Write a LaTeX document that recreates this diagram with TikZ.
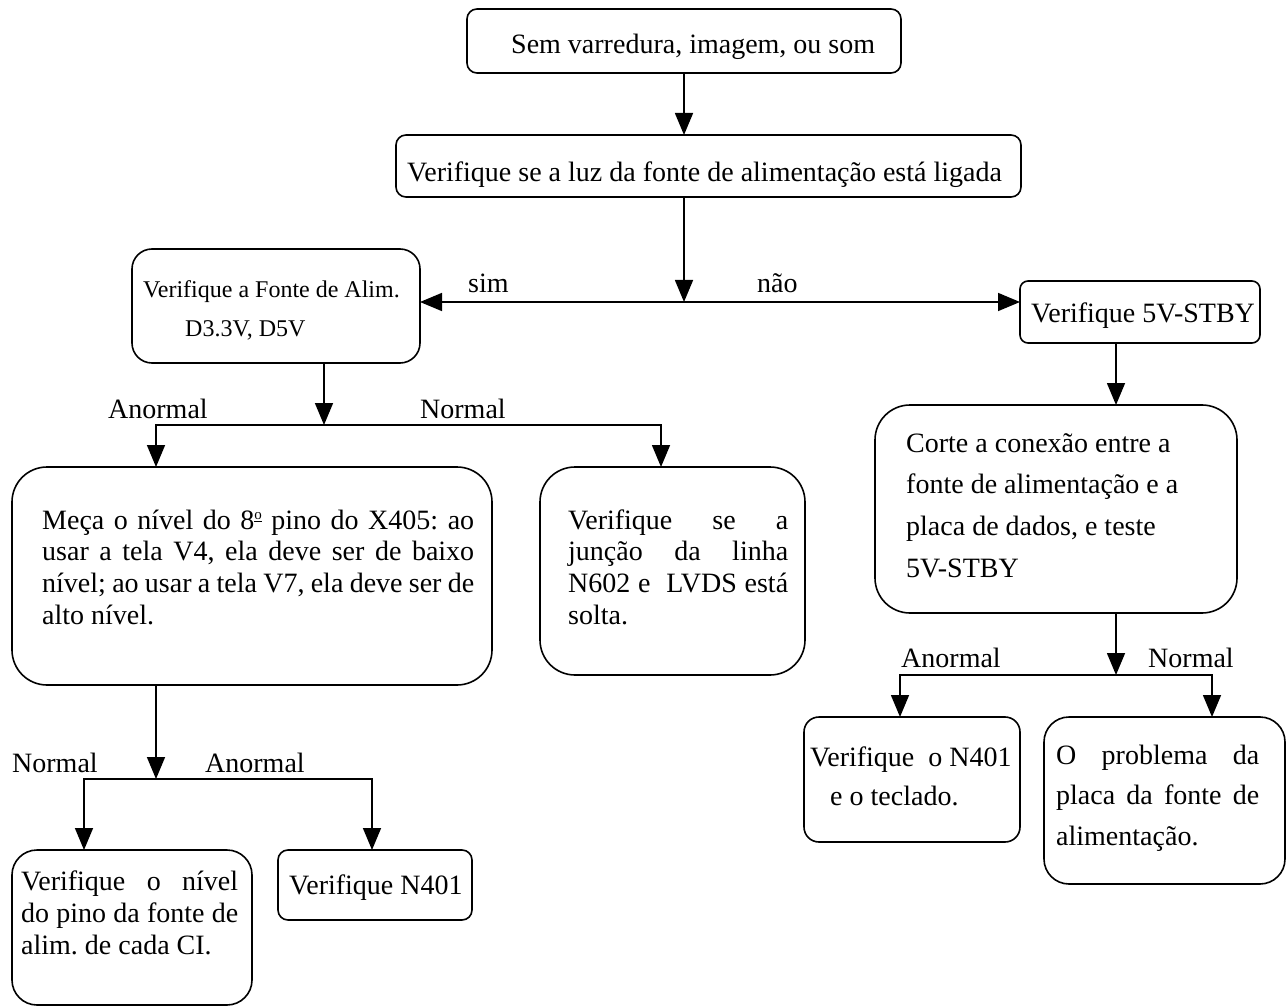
\documentclass[tikz,border=0pt]{standalone}
\usepackage{fontspec}
\setmainfont{Liberation Serif}
\usetikzlibrary{arrows.meta}
\newcommand{\myjust}[2]{\makebox[#1][s]{#2}}
\newcommand{\myord}{\raisebox{0.75ex}{\fontsize{15}{15}\selectfont\underline{o}}}
\frenchspacing
\begin{document}
\begin{tikzpicture}[x=1pt,y=-1pt,
  box/.style={draw, line width=1.6pt, inner sep=0pt, outer sep=0pt, anchor=north west},
  txt/.style={inner sep=0pt, anchor=base west, font=\fontsize{28}{32}\selectfont},
  small/.style={txt, font=\fontsize{24}{28}\selectfont},
  arr/.style={line width=1.6pt, -{Triangle[length=22pt,width=18pt]}}]
\useasboundingbox (0,0) rectangle (1288,1008);

% boxes
\node[box, rounded corners=10pt, minimum width=434pt, minimum height=64pt] (b1) at (467,9) {};
\node[box, rounded corners=10pt, minimum width=625pt, minimum height=62pt] (b2) at (396,135) {};
\node[box, rounded corners=20pt, minimum width=288pt, minimum height=114pt] (b3) at (132,249) {};
\node[box, rounded corners=8pt, minimum width=240pt, minimum height=62pt] (b4) at (1020,281) {};
\node[box, rounded corners=35pt, minimum width=362pt, minimum height=208pt] (b5) at (875,405) {};
\node[box, rounded corners=35pt, minimum width=480pt, minimum height=218pt] (b6) at (12,467) {};
\node[box, rounded corners=35pt, minimum width=265pt, minimum height=208pt] (b7) at (540,467) {};
\node[box, rounded corners=25pt, minimum width=240pt, minimum height=155pt] (b8) at (12,850) {};
\node[box, rounded corners=10pt, minimum width=194pt, minimum height=70pt] (b9) at (278,850) {};
\node[box, rounded corners=15pt, minimum width=216pt, minimum height=125pt] (b10) at (804,717) {};
\node[box, rounded corners=25pt, minimum width=241pt, minimum height=167pt] (b11) at (1044,717) {};

% texts
\node[txt] (t1) at (511,54) {Sem varredura, imagem, ou som};
\node[txt] (t2) at (407,182) {Verifique se a luz da fonte de alimentação está ligada};
\node[small] (t3a) at (143,298) {Verifique a Fonte de Alim.};
\node[small] (t3b) at (185,337) {D3.3V, D5V};
\node[txt] (t4) at (1031,323) {Verifique 5V-STBY};
\node[txt] (t5) at (906,452) {\parbox[t]{320pt}{\fontsize{28}{41.7}\selectfont
  Corte a conexão entre a\\fonte de alimentação e a\\placa de dados, e teste\\5V-STBY}};
\node[txt] (t6) at (42,529) {\parbox[t]{440pt}{\fontsize{28}{31.7}\selectfont
  \myjust{432pt}{Meça o nível do 8\myord{} pino do X405: ao}\\
  \myjust{432pt}{usar a tela V4, ela deve ser de baixo}\\
  \myjust{432pt}{nível; ao usar a tela V7, ela deve ser de}\\
  alto nível.}};
\node[txt] (t7) at (568,529) {\parbox[t]{225pt}{\fontsize{28}{31.7}\selectfont
  \myjust{220pt}{Verifique se a}\\
  \myjust{220pt}{junção da linha}\\
  \myjust{220pt}{N602 e \ LVDS está}\\
  solta.}};
\node[txt] (t8) at (21,890) {\parbox[t]{225pt}{\fontsize{28}{32}\selectfont
  \myjust{217pt}{Verifique o nível}\\
  \myjust{217pt}{do pino da fonte de}\\
  alim. de cada CI.}};
\node[txt] (t9) at (289,894) {Verifique N401};
\node[txt] (t10) at (810,766) {\parbox[t]{210pt}{\fontsize{28}{39}\selectfont
  Verifique \ o N401\\
  \hspace*{20pt}e o teclado.}};
\node[txt] (t11) at (1056,764) {\parbox[t]{210pt}{\fontsize{28}{40.5}\selectfont
  \myjust{203pt}{O problema da}\\
  \myjust{203pt}{placa da fonte de}\\
  alimentação.}};

% labels
\node[txt] (l1) at (468,293) {sim};
\node[txt] (l2) at (757,293) {não};
\node[txt] (l3) at (108,418) {Anormal};
\node[txt] (l4) at (420,418) {Normal};
\node[txt] (l5) at (12,772) {Normal};
\node[txt] (l6) at (205,772) {Anormal};
\node[txt] (l7) at (901,667) {Anormal};
\node[txt] (l8) at (1148,667) {Normal};

% junctions
\coordinate (j1) at (684,302);
\coordinate (j2) at (324,425);
\coordinate (j2l) at (156,425);
\coordinate (j2r) at (661,425);
\coordinate (x5) at (1116,0);
\coordinate (j3) at (1116,675);
\coordinate (j3l) at (900,675);
\coordinate (j3r) at (1212,675);
\coordinate (j4) at (156,779);
\coordinate (j4l) at (84,779);
\coordinate (j4r) at (372,779);

% connectors
\draw[arr] (b1.south) -- (b1.south |- b2.north);
\draw[arr] (j1 |- b2.south) -- (j1);
\draw[arr] (j1) -- (j1 -| b3.east);
\draw[arr] (j1) -- (j1 -| b4.west);
\draw[arr] (j2 |- b3.south) -- (j2);
\draw[arr] (j2) -- (j2l) -- (j2l |- b6.north);
\draw[arr] (j2) -- (j2r) -- (j2r |- b7.north);
\draw[arr] (x5 |- b4.south) -- (x5 |- b5.north);
\draw[arr] (j3 |- b5.south) -- (j3);
\draw[arr] (j3) -- (j3l) -- (j3l |- b10.north);
\draw[arr] (j3) -- (j3r) -- (j3r |- b11.north);
\draw[arr] (j4 |- b6.south) -- (j4);
\draw[arr] (j4) -- (j4l) -- (j4l |- b8.north);
\draw[arr] (j4) -- (j4r) -- (j4r |- b9.north);
\end{tikzpicture}
\end{document}
